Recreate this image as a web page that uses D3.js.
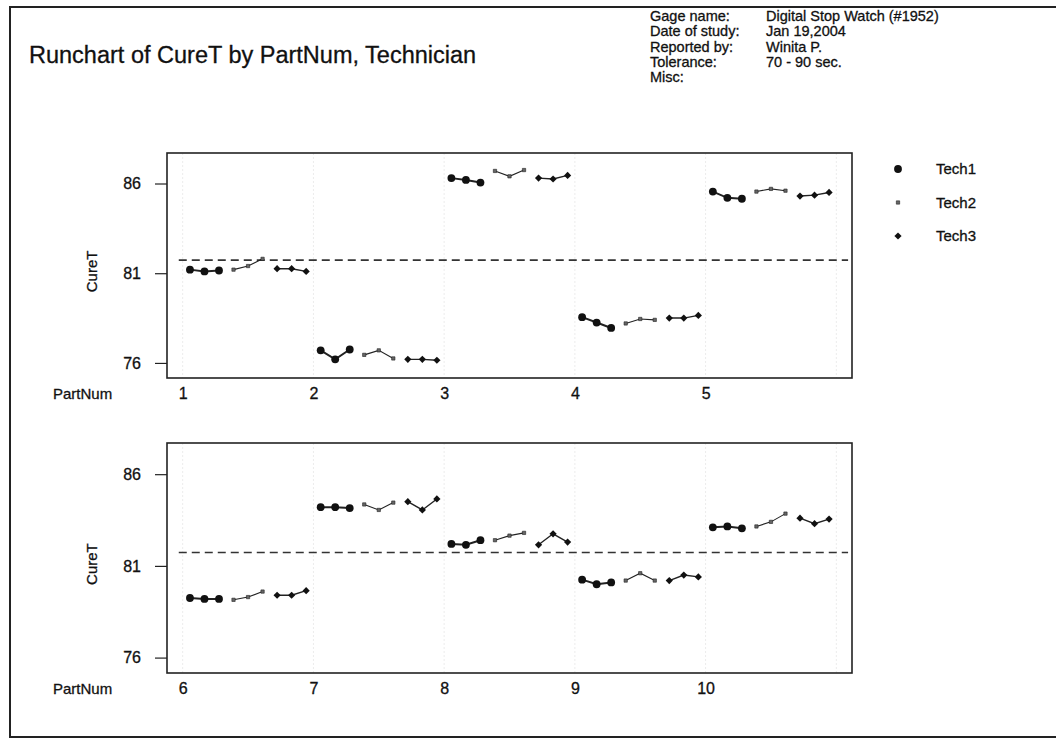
<!DOCTYPE html>
<html>
<head>
<meta charset="utf-8">
<script src="https://cdn.jsdelivr.net/npm/d3@7"></script>
<style>
  body { margin: 0; background: #fff; }
  svg { display: block; font-family: "Liberation Sans", Arial, sans-serif; }
  svg text { stroke: #111; stroke-width: 0.3px; }
</style>
</head>
<body>
<script>
// parts, one panel per five parts
var partNums = [1, 2, 3, 4, 5, 6, 7, 8, 9, 10];
var technicians = ["Tech1", "Tech2", "Tech3"];

// three trials per part, per technician (CureT, sec.)
var tech1 = [
  [81.2, 81.1, 81.15], [76.7, 76.2, 76.75], [86.3, 86.2, 86.05],
  [78.55, 78.25, 77.95], [85.55, 85.2, 85.15], [79.25, 79.2, 79.2],
  [84.2, 84.2, 84.15], [82.2, 82.15, 82.4], [80.25, 80.0, 80.1],
  [83.1, 83.15, 83.05]
];
var tech2 = [
  [81.2, 81.4, 81.8], [76.45, 76.7, 76.25], [86.7, 86.4, 86.75],
  [78.2, 78.45, 78.4], [85.55, 85.7, 85.6], [79.15, 79.3, 79.6],
  [84.35, 84.05, 84.45], [82.4, 82.65, 82.8], [80.2, 80.6, 80.2],
  [83.15, 83.4, 83.85]
];
var tech3 = [
  [81.25, 81.25, 81.1], [76.2, 76.2, 76.15], [86.3, 86.25, 86.45],
  [78.5, 78.5, 78.65], [85.3, 85.35, 85.5], [79.4, 79.4, 79.65],
  [84.5, 84.05, 84.65], [82.15, 82.75, 82.3], [80.2, 80.5, 80.4],
  [83.6, 83.3, 83.55]
];
var grandMean = 81.73;
var yTicks = [76, 81, 86];

var headerLabels = ["Gage name:", "Date of study:", "Reported by:", "Tolerance:", "Misc:"];
var headerValues = ["Digital Stop Watch (#1952)", "Jan 19,2004", "Winita P.", "70 - 90 sec.", ""];

var width = 1056;
var height = 739;
var fontSize = 15;

var svg = d3
  .select("body")
  .append("svg")
  .attr("width", width)
  .attr("height", height);

svg.append("rect").attr("width", width).attr("height", height).attr("fill", "#fff");

// page frame (open on the right, as on the scan)
svg
  .append("rect")
  .attr("x", 10)
  .attr("y", 7)
  .attr("width", width + 20)
  .attr("height", 730)
  .attr("fill", "none")
  .attr("stroke", "#222")
  .attr("stroke-width", 2);

svg
  .append("text")
  .attr("x", 29)
  .attr("y", 63)
  .attr("font-size", 23.5)
  .attr("fill", "#111")
  .text("Runchart of CureT by PartNum, Technician");

var header = svg.append("g").attr("font-size", 14.5).attr("fill", "#111");
headerLabels.forEach(function (label, i) {
  header.append("text").attr("x", 650).attr("y", 21 + i * 15.3).text(label);
  header.append("text").attr("x", 766).attr("y", 21 + i * 15.3).text(headerValues[i]);
});

var seriesByTech = [tech1, tech2, tech3];

// small square turned 45 degrees for Tech3
var diamond = {
  draw: function (context, size) {
    var r = Math.sqrt(size / 2);
    context.moveTo(0, -r);
    context.lineTo(r, 0);
    context.lineTo(0, r);
    context.lineTo(-r, 0);
    context.closePath();
  }
};

var markerStyle = [
  { symbol: d3.symbolCircle, size: 48, fill: "#111", line: 2 },
  { symbol: d3.symbolSquare, size: 11, fill: "#666", line: 1.1 },
  { symbol: diamond, size: 26, fill: "#111", line: 1.4 }
];

var panels = [
  { parts: partNums.slice(0, 5), top: 153, bottom: 378 },
  { parts: partNums.slice(5, 10), top: 443, bottom: 673 }
];

var left = 167;
var right = 852;

panels.forEach(function (panel, p) {
  var first = panel.parts[0];
  var xScale = d3
    .scaleLinear()
    .domain([first - 0.12, first + panel.parts.length + 0.12])
    .range([left, right]);
  var yScale = d3
    .scaleLinear()
    .domain([75.16, 87.7])
    .range([panel.bottom, panel.top]);

  var g = svg.append("g");

  // faint part separators
  g.selectAll("line.sep")
    .data(d3.range(first, first + panel.parts.length + 1))
    .enter()
    .append("line")
    .attr("x1", function (d) { return xScale(d); })
    .attr("x2", function (d) { return xScale(d); })
    .attr("y1", panel.top)
    .attr("y2", panel.bottom)
    .attr("stroke", "#ececec")
    .attr("stroke-dasharray", "2,2");

  // reference line at the grand mean
  g.append("line")
    .attr("x1", xScale(first - 0.03))
    .attr("x2", xScale(first + panel.parts.length + 0.09))
    .attr("y1", yScale(grandMean))
    .attr("y2", yScale(grandMean))
    .attr("stroke", "#333")
    .attr("stroke-width", 1.6)
    .attr("stroke-dasharray", "8,5");

  var yAxis = d3
    .axisLeft(yScale)
    .tickValues(yTicks)
    .tickFormat(d3.format("d"))
    .tickSize(12)
    .tickPadding(14);
  var ya = g.append("g").attr("transform", "translate(" + left + ",0)").call(yAxis);
  ya.select(".domain").remove();
  ya.selectAll(".tick line").attr("stroke", "#222").attr("stroke-width", 1.2);
  ya.selectAll(".tick text")
    .attr("font-size", 16)
    .attr("font-family", "Liberation Sans, Arial, sans-serif")
    .attr("fill", "#111");

  var xAxis = d3
    .axisBottom(xScale)
    .tickValues(panel.parts)
    .tickFormat(d3.format("d"))
    .tickSize(0)
    .tickPadding(10);
  var xa = g.append("g").attr("transform", "translate(0," + panel.bottom + ")").call(xAxis);
  xa.select(".domain").remove();
  xa.selectAll(".tick text")
    .attr("font-size", 16)
    .attr("font-family", "Liberation Sans, Arial, sans-serif")
    .attr("fill", "#111");

  g.append("text")
    .attr("x", 53)
    .attr("y", panel.bottom + 21)
    .attr("font-size", fontSize)
    .attr("fill", "#111")
    .text("PartNum");

  g.append("text")
    .attr("transform", "translate(97," + yScale(81.1) + ") rotate(-90)")
    .attr("text-anchor", "middle")
    .attr("font-size", fontSize)
    .attr("fill", "#111")
    .text("CureT");

  // runs: each technician's three trials, joined, inside each part
  panel.parts.forEach(function (part) {
    seriesByTech.forEach(function (series, t) {
      var pts = series[part - 1].map(function (v, k) {
        return [xScale(part + (t * 3 + k + 0.5) / 9), yScale(v)];
      });
      var st = markerStyle[t];
      g.append("path")
        .attr("d", d3.line()(pts))
        .attr("fill", "none")
        .attr("stroke", "#222")
        .attr("stroke-width", st.line);
      g.selectAll(null)
        .data(pts)
        .enter()
        .append("path")
        .attr("transform", function (d) { return "translate(" + d[0] + "," + d[1] + ")"; })
        .attr("d", d3.symbol().type(st.symbol).size(st.size))
        .attr("fill", st.fill)
        .attr("stroke", "#222")
        .attr("stroke-width", t === 1 ? 0.6 : 0);
    });
  });

  // plot frame
  g.append("rect")
    .attr("x", left)
    .attr("y", panel.top)
    .attr("width", right - left)
    .attr("height", panel.bottom - panel.top)
    .attr("fill", "none")
    .attr("stroke", "#222")
    .attr("stroke-width", 1.6);
});

// legend
var legend = svg.append("g").attr("id", "legend");
technicians.forEach(function (name, t) {
  var y = 169 + t * 33.5;
  var st = markerStyle[t];
  legend.append("path")
    .attr("transform", "translate(898," + y + ")")
    .attr("d", d3.symbol().type(st.symbol).size(st.size))
    .attr("fill", st.fill)
    .attr("stroke", "#222")
    .attr("stroke-width", t === 1 ? 0.6 : 0);
  legend.append("text")
    .attr("x", 936)
    .attr("y", y + 5)
    .attr("font-size", fontSize)
    .attr("fill", "#111")
    .text(name);
});
</script>
</body>
</html>
